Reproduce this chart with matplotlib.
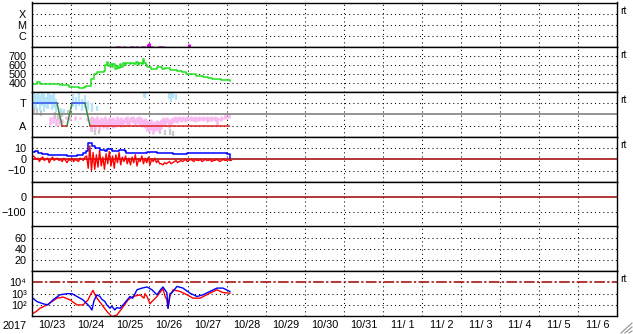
import numpy as np
import matplotlib.pyplot as plt
from matplotlib.lines import Line2D

plt.rcParams['font.family'] = ['Liberation Sans', 'DejaVu Sans']

# time axis: days from 2017-10-23 00:00 UT, data in hours
day_labels = ['10/23', '10/24', '10/25', '10/26', '10/27', '10/28', '10/29', '10/30',
              '10/31', '11/ 1', '11/ 2', '11/ 3', '11/ 4', '11/ 5', '11/ 6']

# X-ray flux (log10 W/m2)
xray_h = [52.3, 53.5, 56.6, 61.0, 62.2, 64.6, 67.5, 69.0, 71.4, 72.0, 74.0, 78.0, 79.5, 80.5, 96.5]
xray_log = [-6.9, -6.9, -6.92, -6.9, -6.9, -6.92, -6.9, -6.9, -6.7, -6.62, -6.9, -6.9, -6.92, -6.9, -6.72]

# solar wind speed (km/s)
vsw_h = [0.6, 3, 5, 10, 15, 17, 23, 29, 32, 33, 36, 38, 40, 43, 44, 45, 46, 47, 48, 49, 50, 51,
         52, 53, 54, 55, 56, 57, 58, 60, 61, 63, 64, 65, 66, 67.5, 68.3, 69.2, 70, 71, 73, 76, 77,
         79, 80, 82, 85, 87, 89, 92, 95, 97, 101, 105, 108, 111, 113, 116, 119, 122]
vsw = [395, 410, 395, 392, 390, 375, 360, 350, 355, 365, 450, 500, 525, 520, 530, 600, 635, 590,
       615, 580, 610, 560, 595, 570, 610, 585, 620, 600, 625, 610, 630, 615, 635, 605, 625, 615,
       670, 620, 600, 585, 560, 560, 580, 575, 555, 565, 550, 545, 540, 520, 505, 500, 475, 465,
       460, 445, 450, 435, 430, 420]

# IMF sector (T=+0.5, A=-0.5)
sector_h = [0.6, 15.4, 18.5, 21.5, 24.6, 32.6, 35.7, 121.2]
sector_v = [0.5, 0.5, -0.5, -0.5, 0.5, 0.5, -0.5, -0.5]
sector_colors = ['#3050f0', '#3a8a3a', '#e02020', '#3a8a3a', '#3050f0', '#3a8a3a', '#e02020']

# sector scatter streaks: hours, top, bottom
toward_h = [1.2, 2.5, 3.7, 4.9, 6.2, 7.4, 8.6, 9.8, 11.1, 12.3, 13.5, 14.8, 17.8, 19.7, 25.2,
            27.1, 28.9, 30.8, 32.6, 34.5, 36.9, 40.0, 68.9, 69.5, 84.3, 85.5, 86.8, 88.6]
toward_top = [0.95, 0.9, 1.0, 0.85, 0.95, 0.9, 0.8, 1.0, 0.9, 0.85, 0.95, 0.7, 0.3, 0.25, 0.9,
              0.8, 0.95, 0.7, 0.85, 0.6, 0.5, 0.4, 1.0, 0.95, 1.0, 0.95, 1.0, 0.9]
toward_bot = [0.3, 0.2, 0.5, 0.15, 0.4, 0.1, 0.35, 0.25, 0.45, 0.2, 0.3, 0.1, 0.05, 0.05, 0.35,
              0.2, 0.4, 0.15, 0.3, 0.2, 0.1, 0.15, 0.8, 0.75, 0.7, 0.55, 0.75, 0.65]

away_h = [11.1, 12.9, 14.8, 16.6, 18.5, 20.9, 23.4, 26.5, 29.5, 33.8,
          36.3, 37.5, 38.8, 40.0, 41.2, 42.5, 43.7, 44.9, 46.2, 47.4, 48.6, 49.8, 51.1, 52.3,
          53.5, 54.8, 56.0, 57.2, 58.5, 59.7, 60.9, 62.2, 63.4, 64.6, 65.8, 67.1, 68.3, 69.5,
          70.8, 72.0, 73.2, 74.5, 75.7, 76.9, 78.2, 79.4, 80.6, 81.8, 83.1, 84.3, 85.5, 86.8,
          88.0, 89.2, 90.5, 91.7, 92.9, 94.2, 95.4, 96.6, 97.8, 99.1, 100.3, 101.5, 102.8, 104.0,
          105.2, 106.5, 107.7, 108.9, 110.2, 111.4, 112.6, 113.8, 115.1, 116.3, 117.5, 118.8,
          120.0, 121.2]
away_top = [-0.1, -0.05, -0.15, -0.1, -0.2, -0.05, -0.1, -0.05, -0.1, -0.15,
            -0.05, -0.1, -0.15, -0.05, -0.2, -0.1, -0.15, -0.05, -0.2, -0.1, -0.15, -0.1, -0.2,
            -0.05, -0.15, -0.1, -0.2, -0.1, -0.05, -0.15, -0.1, -0.05, -0.15, -0.1, -0.05, -0.1,
            -0.2, -0.15, -0.25, -0.3, -0.2, -0.35, -0.3, -0.25, -0.3, -0.2, -0.1, -0.15, -0.1,
            -0.2, -0.15, -0.1, -0.05, -0.1, -0.05, -0.1, -0.05, -0.1, -0.05, -0.1, -0.05, -0.1,
            -0.05, -0.1, -0.05, -0.1, -0.05, -0.1, -0.05, -0.1, -0.05, -0.1, -0.05, -0.1, -0.15,
            -0.05, -0.1, 0.0, -0.05, 0.0]
away_bot = [-0.45, -0.4, -0.5, -0.45, -0.4, -0.2, -0.3, -0.25, -0.2, -0.3,
            -0.75, -0.55, -0.65, -0.5, -0.7, -0.5, -0.6, -0.55, -0.65, -0.5, -0.45, -0.6, -0.55,
            -0.45, -0.5, -0.55, -0.45, -0.4, -0.5, -0.45, -0.35, -0.4, -0.5, -0.4, -0.45, -0.5,
            -0.55, -0.6, -0.75, -0.8, -0.7, -0.85, -0.75, -0.7, -0.8, -0.65, -0.5, -0.45, -0.4,
            -0.6, -0.5, -0.4, -0.35, -0.4, -0.3, -0.35, -0.3, -0.35, -0.3, -0.25, -0.3, -0.3,
            -0.35, -0.3, -0.3, -0.25, -0.3, -0.25, -0.35, -0.3, -0.3, -0.25, -0.3, -0.45, -0.25,
            -0.3, -0.2, -0.2, -0.15, -0.15]

grey_h = [1.2, 3.1, 5.5, 9.2, 14.2, 16.0, 18.5, 22.2, 36.9, 38.8, 41.2, 60.9, 78.8, 81.8, 84.9, 86.8]
grey_top = [0.4, 0.3, 0.2, 0.5, 0.1, 0.05, 0.15, 0.2, -0.5, -0.6, -0.7, -0.1, -0.6, -0.7, -0.65, -0.75]
grey_bot = [0.05, 0.0, -0.05, 0.3, -0.2, -0.3, -0.1, 0.0, -0.8, -0.9, -0.85, -0.25, -0.85, -0.9, -0.9, -0.95]

# IMF Bt (nT)
bt_h = [0.6, 2, 3.7, 6, 10, 15, 21.5, 27.7, 31.4, 33.5, 34.5, 36.9, 38.8, 41.8, 44.9, 46.2, 49.2,
        53.5, 57.2, 58, 62, 70.8, 76.9, 87, 95.4, 103.4, 111.4, 115.7, 120, 121.2, 121.8]
bt = [6.5, 7.5, 5.6, 4.5, 4, 4, 3.2, 4, 6, 7, 15, 11.5, 10.5, 8.6, 7.7, 9.5, 7.7, 8.6, 7, 5.9,
      5.9, 6.4, 5.9, 5, 5.9, 5.5, 5.9, 5.4, 5, 5, 1.5]

# IMF Bz (nT), hourly from 00 UT
bz = [3, 2, 0, 1, -2, 1, 2, -1, 0, 1, -3, 0, 2, -1, 0, 1,
      -1, 0, -2, 1, -1, -3, 0, -1, 1, -2, 0, -1, -2, 1, 0, -1, 2,
      3, -8, 12, -10, 6, -9, 4, -7, 8, -6, 2, -9, 5, -4, 7, -6, 3, -8, 4, -3, 6, -5, 2,
      -2, 3, -4, 1, -5, 2, -3, 4, -6, 0, -2, 3, -4, 1, -3, 2, -5, 0, -2, 1, -3, -1, -4,
      -4, -5, -3, -4, -3, -2, -4, -3, -2, -1, -3, -2, -1, -2,
      -1, 0, -2, -1, 0, -1, -2, 0, -1, -1, 0, -2, -1, 0, -1, -1, 0, -2, -1, -1, 0, -1, -2,
      -1, 0, -1, -1, 0, -1, -1]

# electron flux (log10)
eb_h = [0.6, 3, 6.8, 9.8, 12.9, 17.2, 21.5, 24.6, 27.7, 31.4, 34.5, 35.7, 36.9, 38.2, 40, 41.8,
        43, 44.9, 46, 48, 49, 51, 52, 54.2, 57.2, 60.3, 62, 64.6, 67.7, 70.8, 73.8, 76.9, 78.8,
        80.6, 82.5, 83, 83.7, 84.9, 86.2, 89.2, 92.9, 97.2, 101.5, 105.2, 109.5, 113.8, 117.5,
        121.8]
eb_log = [2.6, 2.3, 2.1, 2.0, 2.45, 2.9, 3.0, 3.0, 2.75, 2.45, 2.0, 1.8, 1.55, 2.4, 2.9, 2.75,
          2.5, 2.3, 2.0, 1.7, 1.9, 1.55, 1.75, 1.7, 2.2, 2.75, 2.6, 3.35, 3.5, 3.6, 3.35, 2.9,
          3.3, 3.6, 3.2, 3.1, 1.7, 3.0, 3.1, 3.65, 3.5, 3.05, 2.75, 2.9, 3.2, 3.5, 3.5, 3.2]
er_h = [0.6, 2.5, 4.9, 9.2, 15.4, 19.1, 23.4, 27.7, 31.4, 34.5, 36.3, 37.5, 38.8, 40, 43.1,
        46.2, 49.2, 52.3, 55.4, 59.1, 62.2, 66.5, 68.9, 69.5, 70.8, 72.6, 73.8, 76.9, 80.6,
        81.8, 83, 83.7, 84.9, 86.8, 91.1, 95.4, 99.1, 103.4, 109.5, 113.8, 117.5, 121.8]
er_log = [1.25, 1.4, 1.7, 2.0, 2.6, 2.7, 2.45, 2.0, 2.0, 2.45, 3.0, 3.3, 2.9, 2.6, 2.0, 1.4,
          0.95, 1.1, 1.7, 2.45, 2.75, 2.9, 2.6, 3.0, 2.75, 2.1, 2.3, 2.75, 3.45, 2.8, 2.45, 1.7,
          2.8, 3.35, 3.2, 2.9, 2.6, 2.6, 3.05, 3.35, 3.1, 3.05]

W, H = 633, 334
fig = plt.figure(figsize=(W / 100, H / 100), dpi=100)
x0, x1 = 32, 617
top, ph = 2.5, 44.8
fs = 7.8
dot = (0, (1, 3))

axes = []
for i in range(7):
    yb = top + (i + 1) * ph
    ax = fig.add_axes([x0 / W, 1 - yb / H, (x1 - x0) / W, ph / H])
    ax.set_xlim(0, 15)
    ax.set_xticks(range(1, 15))
    ax.xaxis.grid(True, color='k', linestyle=dot, linewidth=0.75)
    ax.tick_params(length=0, labelsize=fs, pad=4)
    ax.tick_params(axis='x', labelbottom=False)
    for s in ax.spines.values():
        s.set_linewidth(1.0)
    axes.append(ax)

def hgrid(ax, levels):
    for lv in levels:
        ax.axhline(lv, color='k', linestyle=dot, linewidth=0.75, zorder=1)

# 1: X-ray
ax = axes[0]
ax.set_yscale('log')
ax.set_ylim(1e-7, 1e-3)
ax.set_yticks([1e-6, 1e-5, 1e-4], ['C', 'M', 'X'])
ax.minorticks_off()
hgrid(ax, [1e-6, 1e-5, 1e-4])
ax.vlines(np.array(xray_h) / 24, 1e-7, 10 ** np.array(xray_log), color='#e000e0', linewidth=2.2)

# 2: solar wind speed
ax = axes[1]
ax.set_ylim(300, 800)
ax.set_yticks([400, 500, 600, 700])
hgrid(ax, [400, 500, 600, 700])
ax.plot(np.array(vsw_h) / 24, vsw, color='#20e020', linewidth=1.1, drawstyle='steps-post')

# 3: IMF sector
ax = axes[2]
ax.set_ylim(-1, 1)
ax.set_yticks([0.5, -0.5], ['T', 'A'])
hgrid(ax, [0.5, -0.5])
ax.vlines(np.array(grey_h) / 24, grey_bot, grey_top, color='#c8c8c8', linewidth=1.6)
ax.vlines(np.array(toward_h) / 24, toward_bot, toward_top, color='#b4e4fa', linewidth=1.6)
ax.vlines(np.array(away_h) / 24, away_bot, away_top, color='#f8b8f0', linewidth=1.8)
ax.axhline(0, color='#808080', linewidth=1.2)
for k, c in enumerate(sector_colors):
    ax.plot(np.array(sector_h[k:k + 2]) / 24, sector_v[k:k + 2], color=c, linewidth=1.1)

# 4: IMF Bt / Bz
ax = axes[3]
ax.set_ylim(-20, 20)
ax.set_yticks([10, 0, -10])
hgrid(ax, [10, -10])
ax.axhline(0, color='#a00000', linewidth=1.1)
ax.plot(np.arange(len(bz)) / 24 + 0.6 / 24, bz, color='#ff0000', linewidth=1.0)
ax.plot(np.array(bt_h) / 24, bt, color='#0000ff', linewidth=1.1, drawstyle='steps-post')

# 5: Dst
ax = axes[4]
ax.set_ylim(-200, 100)
ax.set_yticks([0, -100])
hgrid(ax, [-100])
ax.axhline(0, color='#a00000', linewidth=1.1)

# 6: Kp-like
ax = axes[5]
ax.set_ylim(0, 80)
ax.set_yticks([60, 40, 20])
hgrid(ax, [20, 40, 60])

# 7: electron flux
ax = axes[6]
ax.set_yscale('log')
ax.set_ylim(1e1, 1e5)
ax.set_yticks([1e2, 1e3, 1e4], ['10\u00b2', '10\u00b3', '10\u2074'])
ax.minorticks_off()
hgrid(ax, [1e2, 1e3])
ax.axhline(1e4, color='#a00000', linewidth=1.1, dashes=(7, 1.5, 1.5, 1.5))
ax.plot(np.array(er_h) / 24, 10 ** np.array(er_log), color='#ff0000', linewidth=1.0)
ax.plot(np.array(eb_h) / 24, 10 ** np.array(eb_log), color='#0000ff', linewidth=1.0)
ax.set_xticks(np.arange(15) + 0.5, day_labels, minor=True)
ax.tick_params(axis='x', which='minor', length=0, labelbottom=True, labelsize=fs, pad=3)

fig.text(15 / W, 1 - 326 / H, '2017', fontsize=fs, ha='center', va='center')

# "rt" marks at right
for i in [0, 1, 2, 3, 6]:
    fig.text(620 / W, 1 - (top + i * ph + 8) / H, 'rt', fontsize=7.5, ha='left', va='center')

# window resize grip
for d in [4, 8, 12]:
    fig.add_artist(Line2D([(W - d) / W, (W - 1) / W], [1 / H, (d - 1) / H],
                          color='#909090', linewidth=0.8))

fig.savefig('out.png', dpi=100)
